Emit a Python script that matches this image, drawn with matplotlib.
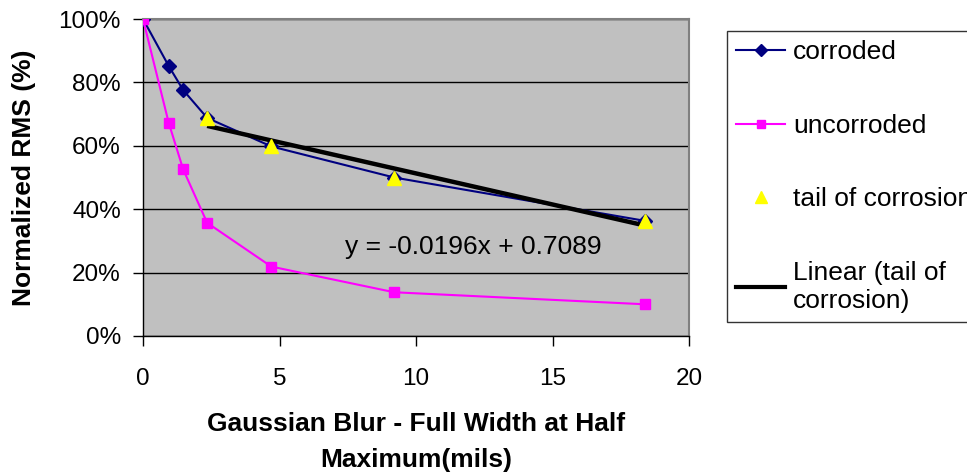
import matplotlib.pyplot as plt
from matplotlib.lines import Line2D
from matplotlib.ticker import FuncFormatter

plt.rcParams['font.family'] = ['Liberation Sans', 'DejaVu Sans']

# blur width (mils) and normalized RMS
blur_fwhm = [0, 0.94, 1.47, 2.35, 4.7, 9.2, 18.4]
rms_corroded = [1.0, 0.852, 0.776, 0.688, 0.598, 0.50, 0.363]
rms_uncorroded = [1.0, 0.673, 0.526, 0.357, 0.219, 0.138, 0.10]

# the tail points are the last four corroded samples
tail_x = blur_fwhm[3:]
tail_y = rms_corroded[3:]

# linear fit of the tail
fit_slope = -0.0196
fit_intercept = 0.7089

fig = plt.figure(figsize=(9.67, 4.74), dpi=100)
ax = fig.add_axes([143 / 967, 1 - 336 / 474, 546 / 967, 317 / 474])
ax.set_facecolor('#C0C0C0')

ax.plot(blur_fwhm, rms_corroded, color='#000080', lw=1.5, marker='D',
        markersize=7.5, zorder=3)
ax.plot(blur_fwhm, rms_uncorroded, color='#FF00FF', lw=1.5, marker='s',
        markersize=7.5, zorder=3)
fit_x = [tail_x[0], tail_x[-1]]
fit_y = [fit_slope * x + fit_intercept for x in fit_x]
ax.plot(fit_x, fit_y, color='black', lw=3.2, zorder=4, solid_capstyle='butt')
ax.plot(tail_x, tail_y, linestyle='none', marker='^', color='#FFFF00',
        markersize=10.5, zorder=5)

ax.text(7.39, 0.259, 'y = -0.0196x + 0.7089', fontsize=19, ha='left',
        va='baseline', zorder=6)

ax.set_xlim(0, 20)
ax.set_ylim(0, 1)
ax.set_xticks([0, 5, 10, 15, 20])
ax.set_yticks([0, 0.2, 0.4, 0.6, 0.8, 1.0])
ax.yaxis.set_major_formatter(FuncFormatter(lambda v, _: f'{v * 100:.0f}%'))
ax.yaxis.grid(True, color='black', lw=1)
ax.set_axisbelow(True)
ax.tick_params(axis='both', direction='out', length=7, width=1,
               labelsize=17.5, color='black')
ax.tick_params(axis='y', pad=9)
ax.tick_params(axis='x', pad=16)

for side in ('top', 'right'):
    ax.spines[side].set_color('#808080')
    ax.spines[side].set_linewidth(1.5)
for side in ('left', 'bottom'):
    ax.spines[side].set_color('black')
    ax.spines[side].set_linewidth(1)

ax.set_xlabel('Gaussian Blur - Full Width at Half\nMaximum(mils)',
              fontsize=19, fontweight='bold', linespacing=1.6, labelpad=16)
ax.set_ylabel('Normalized RMS (%)', fontsize=19, fontweight='bold',
              labelpad=16)

handles = [
    Line2D([], [], color='#000080', lw=1.5, marker='D', markersize=6),
    Line2D([], [], color='#FF00FF', lw=1.5, marker='s', markersize=6),
    Line2D([], [], linestyle='none', marker='^', color='#FFFF00',
           markersize=8),
    Line2D([], [], color='black', lw=3),
]
labels = ['corroded', 'uncorroded', 'tail of corrosion',
          'Linear (tail of\ncorrosion)']
leg = fig.legend(handles, labels, loc='upper left',
                 bbox_to_anchor=(727 / 967, 1 - 31 / 474), fontsize=19,
                 frameon=True, fancybox=False, shadow=False,
                 handlelength=1.85, handletextpad=0.3, borderpad=0.35,
                 labelspacing=1.88, borderaxespad=0)
leg.get_frame().set_edgecolor('black')
leg.get_frame().set_linewidth(1)
leg.get_frame().set_facecolor('white')

fig.savefig('out.png', dpi=100)
